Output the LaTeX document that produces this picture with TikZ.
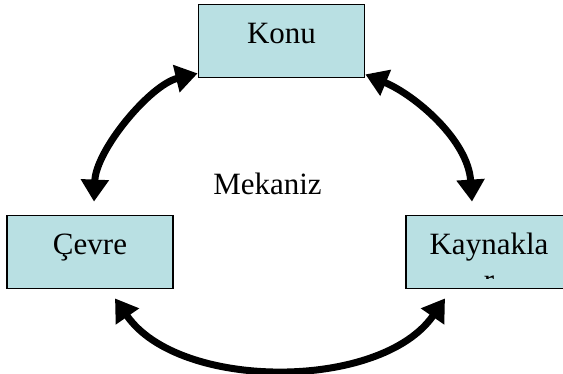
\documentclass[tikz,border=0pt]{standalone}
\usepackage{fontspec}
\setmainfont{Liberation Serif}
\usetikzlibrary{arrows.meta}
\definecolor{kutumavi}{RGB}{185,224,227}
\tikzset{kutu/.style = {
rectangle, draw=black, line width=1.8pt, fill=kutumavi, inner xsep=0pt, inner ysep=0pt,
minimum width=166pt, text height=39pt, text depth=34pt
}}
\tikzset{ok/.style = {<->, line width=7pt}}
\tikzset{>={Triangle[length=22pt,width=27pt]}}

\begin{document}
\begin{tikzpicture}[x=1pt,y=-1pt,font=\fontsize{31}{36}\selectfont]
\clip (0,0) rectangle (563,374);

\node[kutu] (konu) at (281.5,41){Konu};
\node[kutu] (cevre) at (90,252){Çevre};
\node[kutu] (kaynak) at (489,252){Kaynakla};
\begin{scope}
\clip (406,215) rectangle (563,278.5);
\node[anchor=base,inner sep=0pt] (kaynakr) at (489,291){r};
\end{scope}

\node[anchor=base,inner sep=0pt] (mekaniz) at (267.5,195){Mekaniz};

\draw [ok] ([yshift=5pt]konu.south west) .. controls (150,85) and (96,150) .. ([shift={(4pt,13pt)}]cevre.north);
\draw [ok] ([yshift=4pt]konu.south east) .. controls (415,95) and (468,140) .. ([shift={(-17pt,13pt)}]kaynak.north);
\draw [ok] ([shift={(25pt,-9pt)}]cevre.south) .. controls (179,391) and (381,391) .. ([shift={(-44pt,-9pt)}]kaynak.south);

\end{tikzpicture}
\end{document}
